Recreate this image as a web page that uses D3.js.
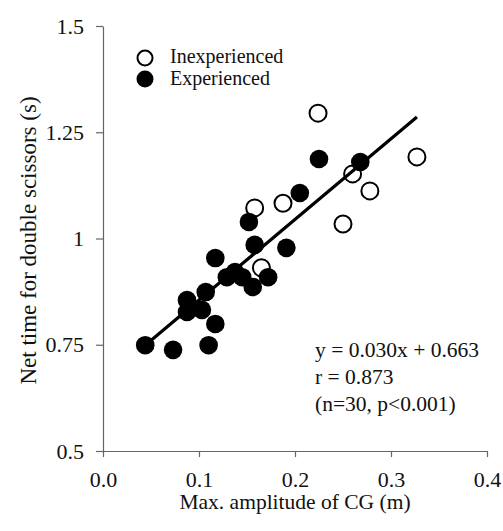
<!DOCTYPE html>
<html>
<head>
<meta charset="utf-8">
<script src="https://cdn.jsdelivr.net/npm/d3@7"></script>
<style>
  html, body { margin: 0; padding: 0; background: #fff; }
  svg { display: block; }
  text { font-family: "Liberation Serif", "Times New Roman", serif; fill: #111; }
</style>
</head>
<body>
<svg id="chart" width="503" height="531"></svg>
<script>
// Inexperienced (open circles)
const inexpX = [0.224, 0.327, 0.260, 0.278, 0.250, 0.1875, 0.158, 0.165];
const inexpY = [1.295, 1.192, 1.152, 1.112, 1.034, 1.083, 1.072, 0.931];
// Experienced (filled circles)
const expX = [0.225, 0.268, 0.205, 0.152, 0.158, 0.191, 0.117, 0.172, 0.1375, 0.129,
              0.145, 0.156, 0.107, 0.0875, 0.0875, 0.103, 0.117, 0.044, 0.073, 0.110];
const expY = [1.187, 1.180, 1.107, 1.039, 0.985, 0.978, 0.954, 0.909, 0.921, 0.909,
              0.909, 0.886, 0.874, 0.855, 0.827, 0.832, 0.799, 0.749, 0.738, 0.749];
// Regression line end points
const fitX = [0.044, 0.327];
const fitY = [0.749, 1.286];
// Ticks
const xTicks = [0.0, 0.1, 0.2, 0.3, 0.4];
const xTickLabels = ["0.0", "0.1", "0.2", "0.3", "0.4"];
const yTicks = [0.5, 0.75, 1.0, 1.25, 1.5];
const yTickLabels = ["0.5", "0.75", "1", "1.25", "1.5"];
const legendLabels = ["Inexperienced", "Experienced"];
const statsLines = ["y = 0.030x + 0.663", "r = 0.873", "(n=30, p<0.001)"];
const xTitle = "Max. amplitude of CG (m)";
const yTitle = "Net time for double scissors (s)";

const FONT = '"Liberation Serif", "Times New Roman", serif';
const svg = d3.select("#chart");
const x = d3.scaleLinear().domain([0, 0.4]).range([103, 487]);
const y = d3.scaleLinear().domain([0.5, 1.5]).range([451, 26]);

const axisColor = "#666";

// Y axis
const yAxis = svg.append("g").attr("transform", `translate(${x(0)},0)`)
  .call(d3.axisLeft(y).tickValues(yTicks)
    .tickFormat((d, i) => yTickLabels[i]).tickSize(7).tickSizeOuter(0).tickPadding(12));
// X axis
const xAxis = svg.append("g").attr("transform", `translate(0,${y(0.5)})`)
  .call(d3.axisBottom(x).tickValues(xTicks)
    .tickFormat((d, i) => xTickLabels[i]).tickSize(6).tickSizeOuter(0).tickPadding(14));

[yAxis, xAxis].forEach(g => {
  g.attr("font-family", FONT).attr("font-size", 22);
  g.selectAll("path").attr("stroke", axisColor).attr("stroke-width", 1.2);
  g.selectAll("line").attr("stroke", axisColor).attr("stroke-width", 1.2);
  g.selectAll("text").attr("font-family", FONT).style("font-family", FONT)
    .style("font-size", "22px").attr("fill", "#111");
});

// Axis titles
svg.append("text")
  .attr("x", (x(0) + x(0.4)) / 2).attr("y", 509)
  .attr("text-anchor", "middle").style("font-family", FONT).style("font-size", "21.5px").text(xTitle);
svg.append("text")
  .attr("transform", `translate(36,${(y(0.5) + y(1.5)) / 2 + 2}) rotate(-90)`)
  .attr("text-anchor", "middle").style("font-family", FONT).style("font-size", "23px").text(yTitle);

const r = 8.5;
// Open circles
svg.append("g").selectAll("circle").data(inexpX).join("circle")
  .attr("cx", d => x(d)).attr("cy", (d, i) => y(inexpY[i])).attr("r", r)
  .attr("fill", "#fff").attr("stroke", "#000").attr("stroke-width", 2);
// Filled circles
svg.append("g").selectAll("circle").data(expX).join("circle")
  .attr("cx", d => x(d)).attr("cy", (d, i) => y(expY[i])).attr("r", r + 0.8)
  .attr("fill", "#000");

// Regression line
svg.append("line")
  .attr("x1", x(fitX[0])).attr("y1", y(fitY[0]))
  .attr("x2", x(fitX[1])).attr("y2", y(fitY[1]))
  .attr("stroke", "#000").attr("stroke-width", 3.2);

// Legend
const lg = svg.append("g");
lg.append("circle").attr("cx", 145).attr("cy", 58).attr("r", 7.5)
  .attr("fill", "#fff").attr("stroke", "#000").attr("stroke-width", 2);
lg.append("circle").attr("cx", 145).attr("cy", 79).attr("r", 8.5).attr("fill", "#000");
lg.selectAll("text").data(legendLabels).join("text")
  .attr("x", 170).attr("y", (d, i) => 63 + i * 22)
  .style("font-family", FONT).style("font-size", "20px").text(d => d);

// Stats annotation
svg.append("g").selectAll("text").data(statsLines).join("text")
  .attr("x", 315).attr("y", (d, i) => 357 + i * 27)
  .style("font-family", FONT).style("font-size", "21.5px").text(d => d);
</script>
</body>
</html>
